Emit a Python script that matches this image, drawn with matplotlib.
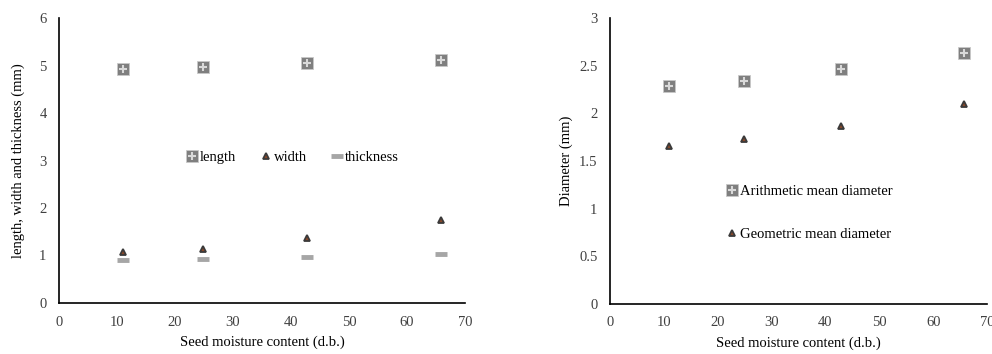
import matplotlib
matplotlib.use('Agg')
import matplotlib.pyplot as plt
from matplotlib.legend_handler import HandlerTuple

# data
moisture = [11.0, 24.9, 42.8, 65.8]
length = [4.93, 4.97, 5.05, 5.12]
width = [1.07, 1.13, 1.36, 1.74]
thickness = [0.90, 0.92, 0.96, 1.03]
arith_diam = [2.29, 2.34, 2.46, 2.63]
geo_diam = [1.66, 1.73, 1.87, 2.10]

plt.rcParams['font.family'] = ['Liberation Serif', 'DejaVu Serif']
plt.rcParams['font.size'] = 10.5

fig = plt.figure(figsize=(9.92, 3.54), dpi=100)
ax1 = fig.add_axes([59/992, 1 - 303/354, 406/992, 285/354])
ax2 = fig.add_axes([610/992, 1 - 304/354, 377/992, 286/354])


def square_plus(ax, x, y):
    s = ax.plot(x, y, 's', ms=8, color='#7f7f7f', mec='#c8c8c8', mew=0.6, ls='none')[0]
    p = ax.plot(x, y, '+', ms=5.5, color='#d9d9d9', mew=1.5, ls='none')[0]
    return (s, p)


def triangle(ax, x, y):
    return ax.plot(x, y, '^', ms=4.5, mfc='#8a4a2a', mec='#3a3a3a', mew=1.3, ls='none')[0]


# left panel
h_len = square_plus(ax1, moisture, length)
h_wid = triangle(ax1, moisture, width)
h_thk = ax1.plot(moisture, thickness, '_', ms=9, mew=3.5, color='#a6a6a6', ls='none')[0]

ax1.set_xlim(0, 70)
ax1.set_ylim(0, 6)
ax1.set_xticks(range(0, 71, 10))
ax1.set_yticks(range(0, 7))
ax1.set_xlabel('Seed moisture content (d.b.)', labelpad=5)
ax1.set_ylabel('length, width and thickness (mm)', labelpad=10)
ax1.legend([h_len, h_wid, h_thk], ['length', 'width', 'thickness'],
           handler_map={tuple: HandlerTuple(ndivide=1)},
           ncol=3, loc='center', bbox_to_anchor=(0.576, 0.51), frameon=False,
           handlelength=0.7, handletextpad=0.2, columnspacing=1.7)

# right panel
h_ar = square_plus(ax2, moisture, arith_diam)
h_ge = triangle(ax2, moisture, geo_diam)

ax2.set_xlim(0, 70)
ax2.set_ylim(0, 3)
ax2.set_xticks(range(0, 71, 10))
ax2.set_yticks([0, 0.5, 1, 1.5, 2, 2.5, 3])
ax2.set_yticklabels(['0', '0.5', '1', '1.5', '2', '2.5', '3'])
ax2.set_xlabel('Seed moisture content (d.b.)', labelpad=5)
ax2.set_ylabel('Diameter (mm)', labelpad=4)
ax2.legend([h_ar, h_ge], ['Arithmetic mean diameter', 'Geometric mean diameter'],
           handler_map={tuple: HandlerTuple(ndivide=1)},
           loc='center', bbox_to_anchor=(0.53, 0.318), frameon=False,
           handlelength=0.7, handletextpad=0.2, labelspacing=2.0)

for ax in (ax1, ax2):
    ax.spines['top'].set_visible(False)
    ax.spines['right'].set_visible(False)
    ax.spines['left'].set_linewidth(1.2)
    ax.spines['bottom'].set_linewidth(1.2)
    ax.tick_params(length=0, pad=9, colors='#404040')

fig.savefig('out.png', dpi=100)
